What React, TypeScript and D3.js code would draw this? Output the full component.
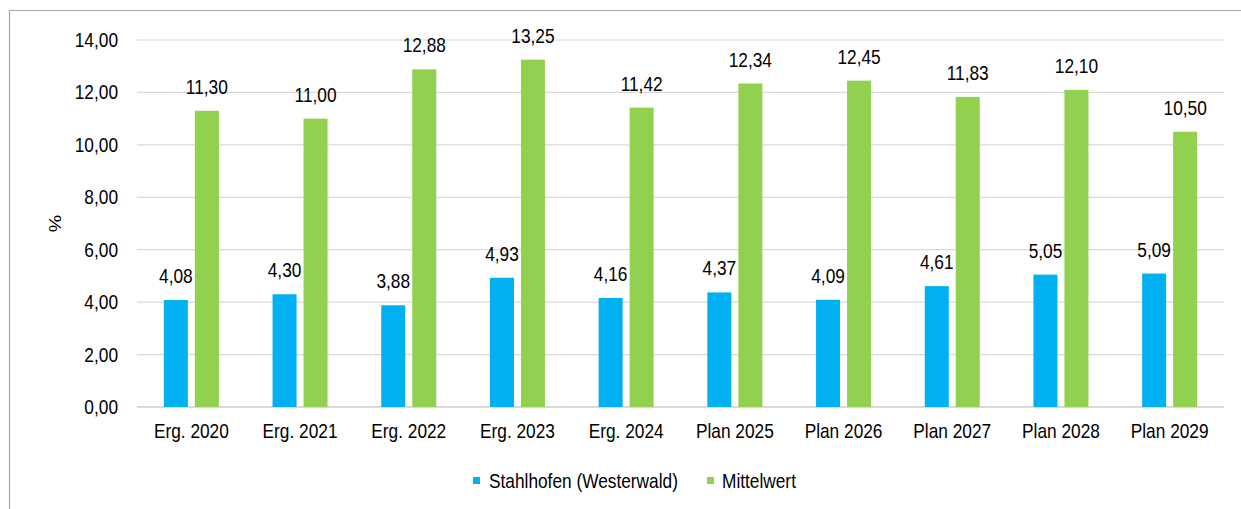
import React from "react";
import * as d3 from "d3";

const categories = ["Erg. 2020", "Erg. 2021", "Erg. 2022", "Erg. 2023", "Erg. 2024", "Plan 2025", "Plan 2026", "Plan 2027", "Plan 2028", "Plan 2029"];
const stahlhofen = [4.08, 4.30, 3.88, 4.93, 4.16, 4.37, 4.09, 4.61, 5.05, 5.09];
const mittelwert = [11.30, 11.00, 12.88, 13.25, 11.42, 12.34, 12.45, 11.83, 12.10, 10.50];
const yTicks = [0, 2, 4, 6, 8, 10, 12, 14];
const seriesNames = ["Stahlhofen (Westerwald)", "Mittelwert"];
const colors = ["#00B0F0", "#92D050"];

const fmt = (v: number) => v.toFixed(2).replace(".", ",");

const FS = 17.3;
const SY = 1.13;

function T({ x, y, anchor = "start", children }: { x: number; y: number; anchor?: string; children: React.ReactNode }) {
  return (
    <text transform={`translate(${x},${y}) scale(1,${SY})`} textAnchor={anchor} fontSize={FS} fill="#000">
      {children}
    </text>
  );
}

export default function App() {
  const W = 1241, H = 509;
  const left = 137, right = 1224, top = 40, bottom = 407;
  const x = d3.scaleBand<string>().domain(categories).range([left, right]);
  const y = d3.scaleLinear().domain([0, 14]).range([bottom, top]);
  const barW = 24;
  const off = 15.5;
  const series = [stahlhofen, mittelwert];
  const font = "'Liberation Sans', Arial, sans-serif";
  return (
    <svg width={W} height={H} style={{ position: "absolute", left: 0, top: 0, fontFamily: font }}>
      <rect x={0} y={0} width={W} height={H} fill="#fff" />
      <path d={`M9.5,${H} V10.5 H${W}`} fill="none" stroke="#A6A6A6" strokeWidth={1.2} />
      {yTicks.map((t) => (
        <g key={t}>
          <line x1={left} x2={right} y1={y(t)} y2={y(t)} stroke="#D9D9D9" strokeWidth={t === 0 ? 2 : 1.2} />
          <T x={118} y={y(t) + 7} anchor="end">{fmt(t)}</T>
        </g>
      ))}
      <text transform={`translate(61,${(top + bottom) / 2}) rotate(-90) scale(${SY},1)`} textAnchor="middle" fontSize={FS}>%</text>
      {categories.map((c, i) => {
        const cx = (x(c) as number) + x.bandwidth() / 2;
        return (
          <g key={c}>
            {series.map((s, k) => {
              const bx = cx + (k === 0 ? -off : off) - barW / 2;
              return (
                <g key={k}>
                  <rect x={bx} y={y(s[i])} width={barW} height={bottom - y(s[i])} fill={colors[k]} />
                  <T x={bx + barW / 2} y={y(s[i]) - 17} anchor="middle">{fmt(s[i])}</T>
                </g>
              );
            })}
            <T x={cx} y={438} anchor="middle">{c}</T>
          </g>
        );
      })}
      <g>
        <rect x={473} y={477} width={7} height={7} fill={colors[0]} />
        <T x={489} y={488}>{seriesNames[0]}</T>
        <rect x={707} y={477} width={7} height={7} fill={colors[1]} />
        <T x={722} y={488}>{seriesNames[1]}</T>
      </g>
    </svg>
  );
}
